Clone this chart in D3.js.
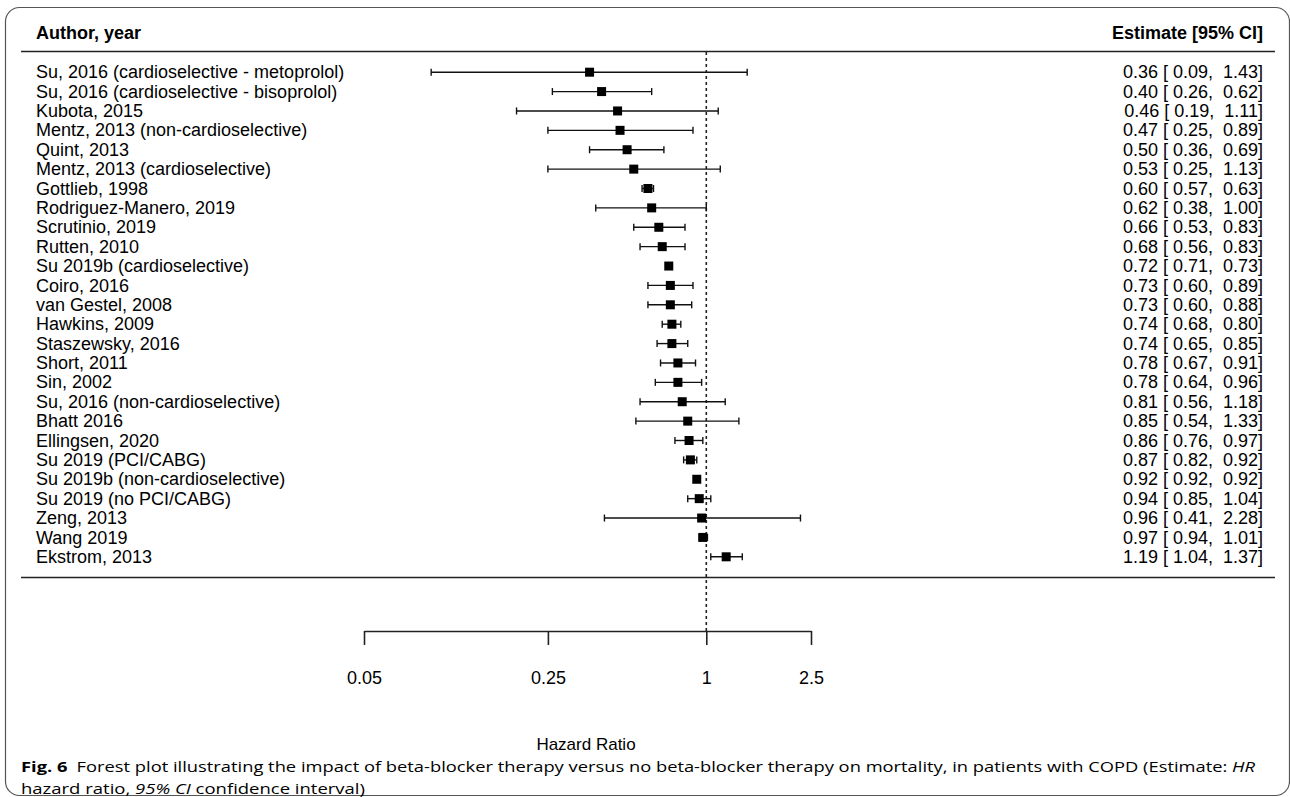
<!DOCTYPE html>
<html>
<head>
<meta charset="utf-8">
<script src="https://cdn.jsdelivr.net/npm/d3@7"></script>
<style>
  body { margin: 0; background: #fff; }
  text { font-family: "Liberation Sans", Arial, sans-serif; }
</style>
</head>
<body>
<div id="chart"></div>
<script>
// study labels, top to bottom
var studies = [
  "Su, 2016 (cardioselective - metoprolol)",
  "Su, 2016 (cardioselective - bisoprolol)",
  "Kubota, 2015",
  "Mentz, 2013 (non-cardioselective)",
  "Quint, 2013",
  "Mentz, 2013 (cardioselective)",
  "Gottlieb, 1998",
  "Rodriguez-Manero, 2019",
  "Scrutinio, 2019",
  "Rutten, 2010",
  "Su 2019b (cardioselective)",
  "Coiro, 2016",
  "van Gestel, 2008",
  "Hawkins, 2009",
  "Staszewsky, 2016",
  "Short, 2011",
  "Sin, 2002",
  "Su, 2016 (non-cardioselective)",
  "Bhatt 2016",
  "Ellingsen, 2020",
  "Su 2019 (PCI/CABG)",
  "Su 2019b (non-cardioselective)",
  "Su 2019 (no PCI/CABG)",
  "Zeng, 2013",
  "Wang 2019",
  "Ekstrom, 2013"
];
var hr  = [0.36,0.40,0.46,0.47,0.50,0.53,0.60,0.62,0.66,0.68,0.72,0.73,0.73,0.74,0.74,0.78,0.78,0.81,0.85,0.86,0.87,0.92,0.94,0.96,0.97,1.19];
var lo  = [0.09,0.26,0.19,0.25,0.36,0.25,0.57,0.38,0.53,0.56,0.71,0.60,0.60,0.68,0.65,0.67,0.64,0.56,0.54,0.76,0.82,0.92,0.85,0.41,0.94,1.04];
var hi  = [1.43,0.62,1.11,0.89,0.69,1.13,0.63,1.00,0.83,0.83,0.73,0.89,0.88,0.80,0.85,0.91,0.96,1.18,1.33,0.97,0.92,0.92,1.04,2.28,1.01,1.37];
var tickValues = [0.05, 0.25, 1, 2.5];

var data = studies.map(function(s, i) {
  return {study: s, hr: hr[i], lo: lo[i], hi: hi[i]};
});

var W = 1290, H = 797;
var svg = d3.select("#chart").append("svg")
    .attr("width", W)
    .attr("height", H);

// rounded frame
svg.append("rect")
    .attr("x", 5.5).attr("y", 7.5)
    .attr("width", 1284).attr("height", 788)
    .attr("rx", 14)
    .attr("fill", "none")
    .attr("stroke", "#555")
    .attr("stroke-width", 1.2);

var x = d3.scaleLog()
    .domain([0.05, 2.5])
    .range([364, 811]);

var y = d3.scaleBand()
    .domain(studies)
    .range([62.5, 566.5]);

var f = d3.format(".2f");
var fs = 18;

// headers
svg.append("text")
    .attr("x", 36).attr("y", 39)
    .style("font-size", fs + "px").style("font-weight", "bold")
    .text("Author, year");
svg.append("text")
    .attr("x", 1263).attr("y", 39)
    .attr("text-anchor", "end")
    .style("font-size", fs + "px").style("font-weight", "bold")
    .text("Estimate [95% CI]");

// horizontal rules
svg.append("line")
    .attr("x1", 21).attr("x2", 1275).attr("y1", 51.5).attr("y2", 51.5)
    .attr("stroke", "#222").attr("stroke-width", 1.6);
svg.append("line")
    .attr("x1", 21).attr("x2", 1275).attr("y1", 577.5).attr("y2", 577.5)
    .attr("stroke", "#222").attr("stroke-width", 1.6);

// reference line at HR = 1
svg.append("line")
    .attr("x1", x(1)).attr("x2", x(1))
    .attr("y1", 52).attr("y2", 631)
    .attr("stroke", "#222").attr("stroke-width", 1.6)
    .attr("stroke-dasharray", "3,3");

var rows = svg.selectAll("g.row")
  .data(data)
  .enter()
  .append("g")
    .attr("class", "row")
    .attr("transform", function(d) { return "translate(0," + (y(d.study) + y.bandwidth() / 2) + ")"; });

rows.append("text")
    .attr("x", 36).attr("y", 0)
    .attr("dy", "0.34em")
    .style("font-size", fs + "px")
    .text(function(d) { return d.study; });

rows.append("text")
    .attr("x", 1263).attr("y", 0)
    .attr("dy", "0.34em")
    .attr("text-anchor", "end")
    .attr("xml:space", "preserve")
    .style("font-size", fs + "px")
    .style("white-space", "pre")
    .text(function(d) { return f(d.hr) + " [ " + f(d.lo) + ",  " + f(d.hi) + "]"; });

// CI whiskers
rows.append("line")
    .attr("x1", function(d) { return x(d.lo); })
    .attr("x2", function(d) { return x(d.hi); })
    .attr("stroke", "#111").attr("stroke-width", 1.4);
rows.append("line")
    .attr("x1", function(d) { return x(d.lo); })
    .attr("x2", function(d) { return x(d.lo); })
    .attr("y1", -3.5).attr("y2", 3.5)
    .attr("stroke", "#111").attr("stroke-width", 1.4);
rows.append("line")
    .attr("x1", function(d) { return x(d.hi); })
    .attr("x2", function(d) { return x(d.hi); })
    .attr("y1", -3.5).attr("y2", 3.5)
    .attr("stroke", "#111").attr("stroke-width", 1.4);

// point estimates
rows.append("rect")
    .attr("x", function(d) { return x(d.hr) - 4.5; })
    .attr("y", -4.5)
    .attr("width", 9).attr("height", 9)
    .attr("fill", "#000");

// x axis
var axis = d3.axisBottom(x)
    .tickValues(tickValues)
    .tickFormat(function(d) { return d; })
    .tickSizeInner(14)
    .tickSizeOuter(0);
var gx = svg.append("g")
    .attr("transform", "translate(0,631)")
    .call(axis);
gx.select(".domain").attr("stroke", "#222").attr("stroke-width", 1.6);
gx.selectAll(".tick line").attr("stroke", "#222").attr("stroke-width", 1.6);
gx.selectAll(".tick text")
    .attr("y", 40)
    .style("font-size", fs + "px")
    .style("font-family", "'Liberation Sans', Arial, sans-serif")
    .attr("fill", "#000");

svg.append("text")
    .attr("x", 586).attr("y", 750)
    .attr("text-anchor", "middle")
    .style("font-size", "17px")
    .text("Hazard Ratio");

// caption
var cap1 = svg.append("text")
    .attr("x", 21).attr("y", 772)
    .style("font-family", "'Open Sans', 'Noto Sans', sans-serif")
    .style("font-size", "15px")
    .attr("textLength", 1234)
    .attr("lengthAdjust", "spacingAndGlyphs");
cap1.append("tspan").style("font-weight", "bold").text("Fig. 6");
cap1.append("tspan").text("\u2002Forest plot illustrating the impact of beta-blocker therapy versus no beta-blocker therapy on mortality, in patients with COPD (Estimate: ");
cap1.append("tspan").style("font-style", "italic").text("HR");

var cap2 = svg.append("text")
    .attr("x", 21).attr("y", 794)
    .style("font-family", "'Open Sans', 'Noto Sans', sans-serif")
    .style("font-size", "15px")
    .attr("textLength", 344)
    .attr("lengthAdjust", "spacingAndGlyphs");
cap2.append("tspan").text("hazard ratio, ");
cap2.append("tspan").style("font-style", "italic").text("95% CI");
cap2.append("tspan").text(" confidence interval)");
</script>
</body>
</html>
